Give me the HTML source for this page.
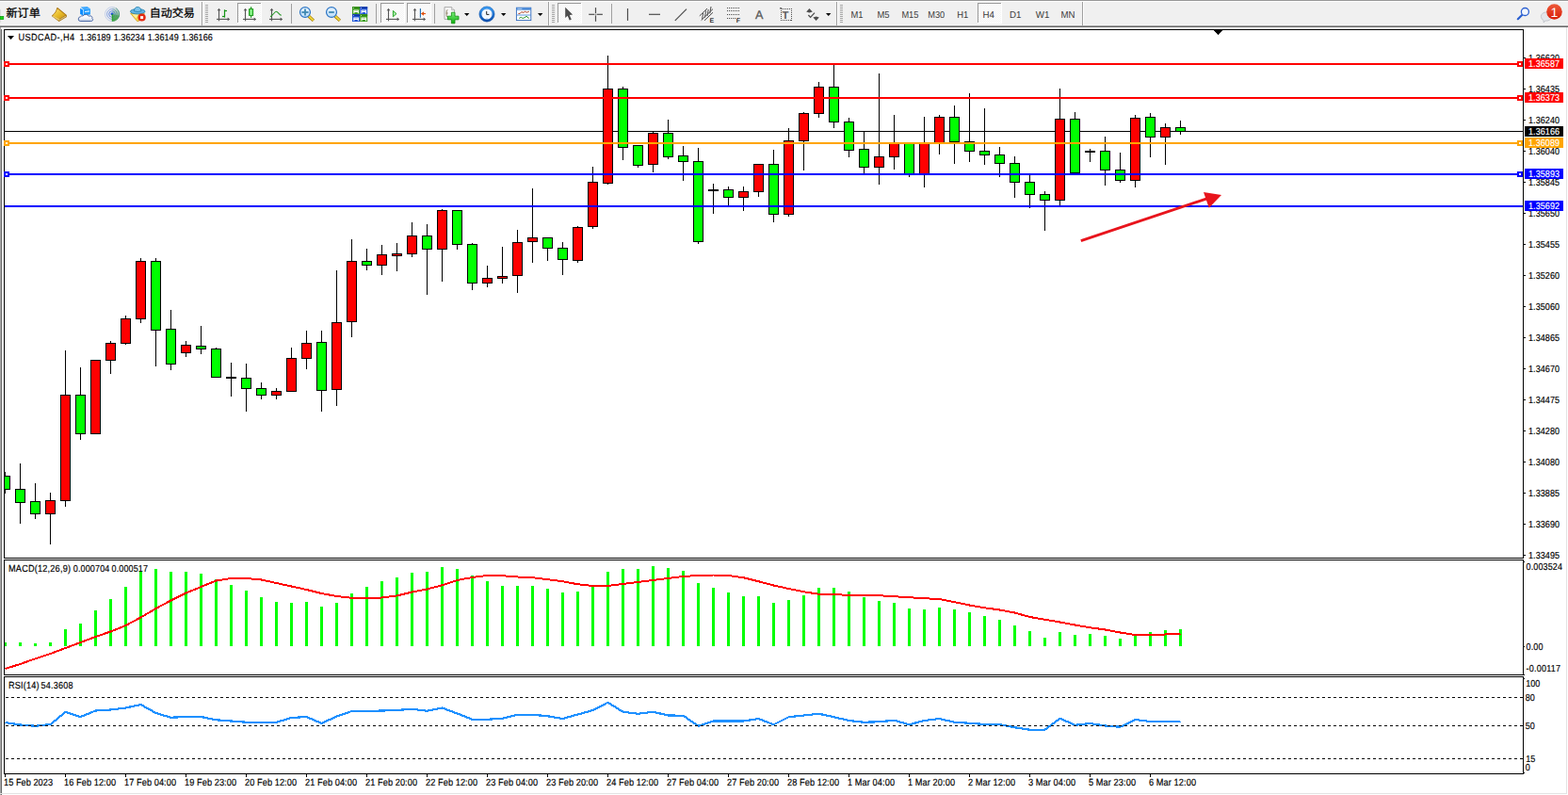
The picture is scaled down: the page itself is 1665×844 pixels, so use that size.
<!DOCTYPE html>
<html><head><meta charset="utf-8"><title>USDCAD H4</title>
<style>
html,body{margin:0;padding:0;background:#fff;overflow:hidden}
body{width:1665px;height:844px;font-family:"Liberation Sans",sans-serif}
svg{display:block;position:absolute;left:0;top:0}
text{font-family:"Liberation Sans",sans-serif;white-space:pre;text-rendering:geometricPrecision}
</style></head><body>
<svg width="1665" height="844" viewBox="0 0 1665 844" shape-rendering="crispEdges">
<defs>
<clipPath id="cm"><rect x="5" y="32" width="1612" height="560"/></clipPath>
<clipPath id="c2"><rect x="5" y="595" width="1612" height="121"/></clipPath>
<clipPath id="c3"><rect x="5" y="719" width="1612" height="102"/></clipPath>
</defs>
<rect x="0" y="0" width="1665" height="844" fill="#ffffff"/>
<rect x="0" y="0" width="1665" height="27" fill="#f0f0f0"/>
<rect x="0" y="0" width="1665" height="1" fill="#989898"/>
<rect x="0" y="1" width="1665" height="1" fill="#ffffff"/>
<rect x="0" y="26" width="1665" height="1" fill="#f4f4f4"/>
<rect x="0" y="27" width="1665" height="1" fill="#a0a0a0"/>
<rect x="0" y="28" width="1665" height="1" fill="#696969"/>
<rect x="0" y="29" width="1" height="815" fill="#a8a8a8"/>
<rect x="1" y="31" width="1" height="813" fill="#696969"/>
<rect x="1663" y="29" width="1" height="814" fill="#e3e3e3"/>
<rect x="0" y="842" width="1664" height="1" fill="#e3e3e3"/>
<rect x="4" y="31" width="1614" height="1" fill="#000"/>
<rect x="4" y="592" width="1614" height="1" fill="#000"/>
<rect x="4" y="31" width="1" height="562" fill="#000"/>
<rect x="1617" y="31" width="1" height="562" fill="#000"/>
<rect x="4" y="594" width="1614" height="1" fill="#000"/>
<rect x="4" y="716" width="1614" height="1" fill="#000"/>
<rect x="4" y="594" width="1" height="123" fill="#000"/>
<rect x="1617" y="594" width="1" height="123" fill="#000"/>
<rect x="4" y="718" width="1614" height="1" fill="#000"/>
<rect x="4" y="821" width="1614" height="1" fill="#000"/>
<rect x="4" y="718" width="1" height="104" fill="#000"/>
<rect x="1617" y="718" width="1" height="104" fill="#000"/>
<g clip-path="url(#cm)">
<rect x="5" y="139" width="1612" height="1" fill="#000"/>
<rect x="5" y="501" width="1" height="23" fill="#000"/>
<rect x="0" y="505" width="11" height="15" fill="#000"/>
<rect x="1" y="506" width="9" height="13" fill="#00ff00"/>
<rect x="21" y="492" width="1" height="64" fill="#000"/>
<rect x="16" y="519" width="11" height="15" fill="#000"/>
<rect x="17" y="520" width="9" height="13" fill="#00ff00"/>
<rect x="37" y="513" width="1" height="38" fill="#000"/>
<rect x="32" y="532" width="11" height="14" fill="#000"/>
<rect x="33" y="533" width="9" height="12" fill="#00ff00"/>
<rect x="53" y="523" width="1" height="55" fill="#000"/>
<rect x="48" y="531" width="11" height="15" fill="#000"/>
<rect x="49" y="532" width="9" height="13" fill="#ff0000"/>
<rect x="69" y="372" width="1" height="166" fill="#000"/>
<rect x="64" y="419" width="11" height="113" fill="#000"/>
<rect x="65" y="420" width="9" height="111" fill="#ff0000"/>
<rect x="85" y="390" width="1" height="77" fill="#000"/>
<rect x="80" y="419" width="11" height="42" fill="#000"/>
<rect x="81" y="420" width="9" height="40" fill="#00ff00"/>
<rect x="101" y="382" width="1" height="79" fill="#000"/>
<rect x="96" y="382" width="11" height="79" fill="#000"/>
<rect x="97" y="383" width="9" height="77" fill="#ff0000"/>
<rect x="117" y="362" width="1" height="35" fill="#000"/>
<rect x="112" y="364" width="11" height="19" fill="#000"/>
<rect x="113" y="365" width="9" height="17" fill="#ff0000"/>
<rect x="133" y="335" width="1" height="31" fill="#000"/>
<rect x="128" y="338" width="11" height="27" fill="#000"/>
<rect x="129" y="339" width="9" height="25" fill="#ff0000"/>
<rect x="149" y="274" width="1" height="69" fill="#000"/>
<rect x="144" y="277" width="11" height="62" fill="#000"/>
<rect x="145" y="278" width="9" height="60" fill="#ff0000"/>
<rect x="165" y="274" width="1" height="115" fill="#000"/>
<rect x="160" y="277" width="11" height="74" fill="#000"/>
<rect x="161" y="278" width="9" height="72" fill="#00ff00"/>
<rect x="181" y="329" width="1" height="64" fill="#000"/>
<rect x="176" y="349" width="11" height="38" fill="#000"/>
<rect x="177" y="350" width="9" height="36" fill="#00ff00"/>
<rect x="197" y="362" width="1" height="17" fill="#000"/>
<rect x="192" y="366" width="11" height="9" fill="#000"/>
<rect x="193" y="367" width="9" height="7" fill="#ff0000"/>
<rect x="213" y="346" width="1" height="30" fill="#000"/>
<rect x="208" y="367" width="11" height="4" fill="#000"/>
<rect x="209" y="368" width="9" height="2" fill="#00ff00"/>
<rect x="229" y="369" width="1" height="32" fill="#000"/>
<rect x="224" y="370" width="11" height="31" fill="#000"/>
<rect x="225" y="371" width="9" height="29" fill="#00ff00"/>
<rect x="245" y="385" width="1" height="36" fill="#000"/>
<rect x="240" y="400" width="11" height="2" fill="#000"/>
<rect x="261" y="386" width="1" height="51" fill="#000"/>
<rect x="256" y="401" width="11" height="12" fill="#000"/>
<rect x="257" y="402" width="9" height="10" fill="#00ff00"/>
<rect x="277" y="406" width="1" height="18" fill="#000"/>
<rect x="272" y="412" width="11" height="8" fill="#000"/>
<rect x="273" y="413" width="9" height="6" fill="#00ff00"/>
<rect x="293" y="412" width="1" height="12" fill="#000"/>
<rect x="288" y="415" width="11" height="5" fill="#000"/>
<rect x="289" y="416" width="9" height="3" fill="#ff0000"/>
<rect x="309" y="369" width="1" height="47" fill="#000"/>
<rect x="304" y="380" width="11" height="36" fill="#000"/>
<rect x="305" y="381" width="9" height="34" fill="#ff0000"/>
<rect x="325" y="351" width="1" height="41" fill="#000"/>
<rect x="320" y="364" width="11" height="17" fill="#000"/>
<rect x="321" y="365" width="9" height="15" fill="#ff0000"/>
<rect x="341" y="351" width="1" height="86" fill="#000"/>
<rect x="336" y="363" width="11" height="52" fill="#000"/>
<rect x="337" y="364" width="9" height="50" fill="#00ff00"/>
<rect x="357" y="287" width="1" height="144" fill="#000"/>
<rect x="352" y="342" width="11" height="72" fill="#000"/>
<rect x="353" y="343" width="9" height="70" fill="#ff0000"/>
<rect x="373" y="254" width="1" height="104" fill="#000"/>
<rect x="368" y="277" width="11" height="65" fill="#000"/>
<rect x="369" y="278" width="9" height="63" fill="#ff0000"/>
<rect x="389" y="264" width="1" height="23" fill="#000"/>
<rect x="384" y="277" width="11" height="5" fill="#000"/>
<rect x="385" y="278" width="9" height="3" fill="#00ff00"/>
<rect x="405" y="260" width="1" height="32" fill="#000"/>
<rect x="400" y="270" width="11" height="12" fill="#000"/>
<rect x="401" y="271" width="9" height="10" fill="#ff0000"/>
<rect x="421" y="258" width="1" height="30" fill="#000"/>
<rect x="416" y="269" width="11" height="3" fill="#000"/>
<rect x="417" y="270" width="9" height="1" fill="#ff0000"/>
<rect x="437" y="236" width="1" height="37" fill="#000"/>
<rect x="432" y="250" width="11" height="20" fill="#000"/>
<rect x="433" y="251" width="9" height="18" fill="#ff0000"/>
<rect x="453" y="238" width="1" height="75" fill="#000"/>
<rect x="448" y="250" width="11" height="15" fill="#000"/>
<rect x="449" y="251" width="9" height="13" fill="#00ff00"/>
<rect x="469" y="222" width="1" height="77" fill="#000"/>
<rect x="464" y="223" width="11" height="42" fill="#000"/>
<rect x="465" y="224" width="9" height="40" fill="#ff0000"/>
<rect x="485" y="223" width="1" height="42" fill="#000"/>
<rect x="480" y="223" width="11" height="37" fill="#000"/>
<rect x="481" y="224" width="9" height="35" fill="#00ff00"/>
<rect x="501" y="258" width="1" height="50" fill="#000"/>
<rect x="496" y="259" width="11" height="42" fill="#000"/>
<rect x="497" y="260" width="9" height="40" fill="#00ff00"/>
<rect x="517" y="282" width="1" height="23" fill="#000"/>
<rect x="512" y="295" width="11" height="6" fill="#000"/>
<rect x="513" y="296" width="9" height="4" fill="#ff0000"/>
<rect x="533" y="262" width="1" height="39" fill="#000"/>
<rect x="528" y="293" width="11" height="3" fill="#000"/>
<rect x="529" y="294" width="9" height="1" fill="#ff0000"/>
<rect x="549" y="244" width="1" height="67" fill="#000"/>
<rect x="544" y="257" width="11" height="36" fill="#000"/>
<rect x="545" y="258" width="9" height="34" fill="#ff0000"/>
<rect x="565" y="200" width="1" height="79" fill="#000"/>
<rect x="560" y="252" width="11" height="5" fill="#000"/>
<rect x="561" y="253" width="9" height="3" fill="#ff0000"/>
<rect x="581" y="252" width="1" height="25" fill="#000"/>
<rect x="576" y="252" width="11" height="12" fill="#000"/>
<rect x="577" y="253" width="9" height="10" fill="#00ff00"/>
<rect x="597" y="257" width="1" height="35" fill="#000"/>
<rect x="592" y="263" width="11" height="13" fill="#000"/>
<rect x="593" y="264" width="9" height="11" fill="#00ff00"/>
<rect x="613" y="240" width="1" height="39" fill="#000"/>
<rect x="608" y="241" width="11" height="36" fill="#000"/>
<rect x="609" y="242" width="9" height="34" fill="#ff0000"/>
<rect x="629" y="177" width="1" height="66" fill="#000"/>
<rect x="624" y="193" width="11" height="48" fill="#000"/>
<rect x="625" y="194" width="9" height="46" fill="#ff0000"/>
<rect x="645" y="59" width="1" height="137" fill="#000"/>
<rect x="640" y="94" width="11" height="101" fill="#000"/>
<rect x="641" y="95" width="9" height="99" fill="#ff0000"/>
<rect x="661" y="92" width="1" height="78" fill="#000"/>
<rect x="656" y="94" width="11" height="63" fill="#000"/>
<rect x="657" y="95" width="9" height="61" fill="#00ff00"/>
<rect x="677" y="154" width="1" height="24" fill="#000"/>
<rect x="672" y="154" width="11" height="22" fill="#000"/>
<rect x="673" y="155" width="9" height="20" fill="#00ff00"/>
<rect x="693" y="140" width="1" height="43" fill="#000"/>
<rect x="688" y="141" width="11" height="34" fill="#000"/>
<rect x="689" y="142" width="9" height="32" fill="#ff0000"/>
<rect x="709" y="127" width="1" height="42" fill="#000"/>
<rect x="704" y="141" width="11" height="26" fill="#000"/>
<rect x="705" y="142" width="9" height="24" fill="#00ff00"/>
<rect x="725" y="155" width="1" height="37" fill="#000"/>
<rect x="720" y="165" width="11" height="7" fill="#000"/>
<rect x="721" y="166" width="9" height="5" fill="#00ff00"/>
<rect x="741" y="157" width="1" height="102" fill="#000"/>
<rect x="736" y="171" width="11" height="86" fill="#000"/>
<rect x="737" y="172" width="9" height="84" fill="#00ff00"/>
<rect x="757" y="195" width="1" height="32" fill="#000"/>
<rect x="752" y="201" width="11" height="2" fill="#000"/>
<rect x="773" y="198" width="1" height="20" fill="#000"/>
<rect x="768" y="201" width="11" height="9" fill="#000"/>
<rect x="769" y="202" width="9" height="7" fill="#00ff00"/>
<rect x="789" y="198" width="1" height="26" fill="#000"/>
<rect x="784" y="203" width="11" height="7" fill="#000"/>
<rect x="785" y="204" width="9" height="5" fill="#ff0000"/>
<rect x="805" y="174" width="1" height="35" fill="#000"/>
<rect x="800" y="174" width="11" height="30" fill="#000"/>
<rect x="801" y="175" width="9" height="28" fill="#ff0000"/>
<rect x="821" y="159" width="1" height="77" fill="#000"/>
<rect x="816" y="174" width="11" height="54" fill="#000"/>
<rect x="817" y="175" width="9" height="52" fill="#00ff00"/>
<rect x="837" y="136" width="1" height="94" fill="#000"/>
<rect x="832" y="149" width="11" height="79" fill="#000"/>
<rect x="833" y="150" width="9" height="77" fill="#ff0000"/>
<rect x="853" y="119" width="1" height="62" fill="#000"/>
<rect x="848" y="120" width="11" height="30" fill="#000"/>
<rect x="849" y="121" width="9" height="28" fill="#ff0000"/>
<rect x="869" y="87" width="1" height="38" fill="#000"/>
<rect x="864" y="92" width="11" height="29" fill="#000"/>
<rect x="865" y="93" width="9" height="27" fill="#ff0000"/>
<rect x="885" y="69" width="1" height="67" fill="#000"/>
<rect x="880" y="92" width="11" height="38" fill="#000"/>
<rect x="881" y="93" width="9" height="36" fill="#00ff00"/>
<rect x="901" y="125" width="1" height="42" fill="#000"/>
<rect x="896" y="129" width="11" height="31" fill="#000"/>
<rect x="897" y="130" width="9" height="29" fill="#00ff00"/>
<rect x="917" y="140" width="1" height="44" fill="#000"/>
<rect x="912" y="158" width="11" height="20" fill="#000"/>
<rect x="913" y="159" width="9" height="18" fill="#00ff00"/>
<rect x="933" y="78" width="1" height="118" fill="#000"/>
<rect x="928" y="166" width="11" height="12" fill="#000"/>
<rect x="929" y="167" width="9" height="10" fill="#ff0000"/>
<rect x="949" y="122" width="1" height="58" fill="#000"/>
<rect x="944" y="152" width="11" height="15" fill="#000"/>
<rect x="945" y="153" width="9" height="13" fill="#ff0000"/>
<rect x="965" y="152" width="1" height="36" fill="#000"/>
<rect x="960" y="152" width="11" height="33" fill="#000"/>
<rect x="961" y="153" width="9" height="31" fill="#00ff00"/>
<rect x="981" y="124" width="1" height="75" fill="#000"/>
<rect x="976" y="152" width="11" height="33" fill="#000"/>
<rect x="977" y="153" width="9" height="31" fill="#ff0000"/>
<rect x="997" y="122" width="1" height="42" fill="#000"/>
<rect x="992" y="124" width="11" height="28" fill="#000"/>
<rect x="993" y="125" width="9" height="26" fill="#ff0000"/>
<rect x="1013" y="112" width="1" height="62" fill="#000"/>
<rect x="1008" y="124" width="11" height="27" fill="#000"/>
<rect x="1009" y="125" width="9" height="25" fill="#00ff00"/>
<rect x="1029" y="99" width="1" height="73" fill="#000"/>
<rect x="1024" y="150" width="11" height="11" fill="#000"/>
<rect x="1025" y="151" width="9" height="9" fill="#00ff00"/>
<rect x="1045" y="115" width="1" height="60" fill="#000"/>
<rect x="1040" y="160" width="11" height="5" fill="#000"/>
<rect x="1041" y="161" width="9" height="3" fill="#00ff00"/>
<rect x="1061" y="156" width="1" height="32" fill="#000"/>
<rect x="1056" y="164" width="11" height="10" fill="#000"/>
<rect x="1057" y="165" width="9" height="8" fill="#00ff00"/>
<rect x="1077" y="166" width="1" height="44" fill="#000"/>
<rect x="1072" y="173" width="11" height="21" fill="#000"/>
<rect x="1073" y="174" width="9" height="19" fill="#00ff00"/>
<rect x="1093" y="186" width="1" height="35" fill="#000"/>
<rect x="1088" y="193" width="11" height="14" fill="#000"/>
<rect x="1089" y="194" width="9" height="12" fill="#00ff00"/>
<rect x="1109" y="203" width="1" height="42" fill="#000"/>
<rect x="1104" y="206" width="11" height="7" fill="#000"/>
<rect x="1105" y="207" width="9" height="5" fill="#00ff00"/>
<rect x="1125" y="94" width="1" height="124" fill="#000"/>
<rect x="1120" y="126" width="11" height="87" fill="#000"/>
<rect x="1121" y="127" width="9" height="85" fill="#ff0000"/>
<rect x="1141" y="119" width="1" height="65" fill="#000"/>
<rect x="1136" y="126" width="11" height="58" fill="#000"/>
<rect x="1137" y="127" width="9" height="56" fill="#00ff00"/>
<rect x="1157" y="158" width="1" height="14" fill="#000"/>
<rect x="1152" y="160" width="11" height="2" fill="#000"/>
<rect x="1173" y="145" width="1" height="52" fill="#000"/>
<rect x="1168" y="160" width="11" height="21" fill="#000"/>
<rect x="1169" y="161" width="9" height="19" fill="#00ff00"/>
<rect x="1189" y="162" width="1" height="32" fill="#000"/>
<rect x="1184" y="180" width="11" height="12" fill="#000"/>
<rect x="1185" y="181" width="9" height="10" fill="#00ff00"/>
<rect x="1205" y="122" width="1" height="77" fill="#000"/>
<rect x="1200" y="125" width="11" height="67" fill="#000"/>
<rect x="1201" y="126" width="9" height="65" fill="#ff0000"/>
<rect x="1221" y="120" width="1" height="47" fill="#000"/>
<rect x="1216" y="124" width="11" height="22" fill="#000"/>
<rect x="1217" y="125" width="9" height="20" fill="#00ff00"/>
<rect x="1237" y="131" width="1" height="44" fill="#000"/>
<rect x="1232" y="135" width="11" height="11" fill="#000"/>
<rect x="1233" y="136" width="9" height="9" fill="#ff0000"/>
<rect x="1253" y="128" width="1" height="15" fill="#000"/>
<rect x="1248" y="135" width="11" height="5" fill="#000"/>
<rect x="1249" y="136" width="9" height="3" fill="#00ff00"/>
</g>
<rect x="5" y="67" width="1612" height="2" fill="#ff0000"/>
<rect x="4" y="65" width="6" height="6" fill="#ff0000"/>
<rect x="6" y="67" width="2" height="2" fill="#fff"/>
<rect x="1611" y="65" width="6" height="6" fill="#ff0000"/>
<rect x="1613" y="67" width="2" height="2" fill="#fff"/>
<rect x="5" y="103" width="1612" height="2" fill="#ff0000"/>
<rect x="4" y="101" width="6" height="6" fill="#ff0000"/>
<rect x="6" y="103" width="2" height="2" fill="#fff"/>
<rect x="1611" y="101" width="6" height="6" fill="#ff0000"/>
<rect x="1613" y="103" width="2" height="2" fill="#fff"/>
<rect x="5" y="151" width="1612" height="2" fill="#ffa500"/>
<rect x="4" y="149" width="6" height="6" fill="#ffa500"/>
<rect x="6" y="151" width="2" height="2" fill="#fff"/>
<rect x="1611" y="149" width="6" height="6" fill="#ffa500"/>
<rect x="1613" y="151" width="2" height="2" fill="#fff"/>
<rect x="5" y="184" width="1612" height="2" fill="#0000ff"/>
<rect x="4" y="182" width="6" height="6" fill="#0000ff"/>
<rect x="6" y="184" width="2" height="2" fill="#fff"/>
<rect x="1611" y="182" width="6" height="6" fill="#0000ff"/>
<rect x="1613" y="184" width="2" height="2" fill="#fff"/>
<rect x="5" y="218" width="1612" height="2" fill="#0000ff"/>
<g shape-rendering="geometricPrecision"><line x1="1147.8" y1="255.6" x2="1283" y2="210.4" stroke="#e8141c" stroke-width="2.9"/><polygon points="1278,203.9 1297,206.9 1283.8,220.8" fill="#e8141c"/></g>
<rect x="1289" y="32" width="9" height="1" fill="#000"/>
<rect x="1290" y="33" width="7" height="1" fill="#000"/>
<rect x="1291" y="34" width="5" height="1" fill="#000"/>
<rect x="1292" y="35" width="3" height="1" fill="#000"/>
<rect x="1293" y="36" width="1" height="1" fill="#000"/>
<polygon points="8,38 15,38 11.5,42" fill="#000" shape-rendering="geometricPrecision"/>
<text transform="translate(19.6,43) scale(1,1.13)" font-size="9.2" fill="#000" stroke="#000" stroke-width="0.15" textLength="59.5" lengthAdjust="spacing">USDCAD-,H4</text>
<text transform="translate(84.6,43) scale(1,1.13)" font-size="9" fill="#000" stroke="#000" stroke-width="0.15" textLength="33" lengthAdjust="spacing">1.36189</text>
<text transform="translate(120.64999999999999,43) scale(1,1.13)" font-size="9" fill="#000" stroke="#000" stroke-width="0.15" textLength="33" lengthAdjust="spacing">1.36234</text>
<text transform="translate(156.7,43) scale(1,1.13)" font-size="9" fill="#000" stroke="#000" stroke-width="0.15" textLength="33" lengthAdjust="spacing">1.36149</text>
<text transform="translate(192.75,43) scale(1,1.13)" font-size="9" fill="#000" stroke="#000" stroke-width="0.15" textLength="33" lengthAdjust="spacing">1.36166</text>
<rect x="1618" y="61" width="2" height="1" fill="#000"/>
<text transform="translate(1623,65) scale(1,1.13)" font-size="9" fill="#000" stroke="#000" stroke-width="0.15" textLength="33" lengthAdjust="spacing">1.36620</text>
<rect x="1618" y="94" width="2" height="1" fill="#000"/>
<text transform="translate(1623,98) scale(1,1.13)" font-size="9" fill="#000" stroke="#000" stroke-width="0.15" textLength="33" lengthAdjust="spacing">1.36435</text>
<rect x="1618" y="127" width="2" height="1" fill="#000"/>
<text transform="translate(1623,131) scale(1,1.13)" font-size="9" fill="#000" stroke="#000" stroke-width="0.15" textLength="33" lengthAdjust="spacing">1.36240</text>
<rect x="1618" y="160" width="2" height="1" fill="#000"/>
<text transform="translate(1623,164) scale(1,1.13)" font-size="9" fill="#000" stroke="#000" stroke-width="0.15" textLength="33" lengthAdjust="spacing">1.36040</text>
<rect x="1618" y="193" width="2" height="1" fill="#000"/>
<text transform="translate(1623,197) scale(1,1.13)" font-size="9" fill="#000" stroke="#000" stroke-width="0.15" textLength="33" lengthAdjust="spacing">1.35845</text>
<rect x="1618" y="226" width="2" height="1" fill="#000"/>
<text transform="translate(1623,230) scale(1,1.13)" font-size="9" fill="#000" stroke="#000" stroke-width="0.15" textLength="33" lengthAdjust="spacing">1.35650</text>
<rect x="1618" y="259" width="2" height="1" fill="#000"/>
<text transform="translate(1623,263) scale(1,1.13)" font-size="9" fill="#000" stroke="#000" stroke-width="0.15" textLength="33" lengthAdjust="spacing">1.35455</text>
<rect x="1618" y="292" width="2" height="1" fill="#000"/>
<text transform="translate(1623,296) scale(1,1.13)" font-size="9" fill="#000" stroke="#000" stroke-width="0.15" textLength="33" lengthAdjust="spacing">1.35260</text>
<rect x="1618" y="325" width="2" height="1" fill="#000"/>
<text transform="translate(1623,329) scale(1,1.13)" font-size="9" fill="#000" stroke="#000" stroke-width="0.15" textLength="33" lengthAdjust="spacing">1.35060</text>
<rect x="1618" y="358" width="2" height="1" fill="#000"/>
<text transform="translate(1623,362) scale(1,1.13)" font-size="9" fill="#000" stroke="#000" stroke-width="0.15" textLength="33" lengthAdjust="spacing">1.34865</text>
<rect x="1618" y="391" width="2" height="1" fill="#000"/>
<text transform="translate(1623,395) scale(1,1.13)" font-size="9" fill="#000" stroke="#000" stroke-width="0.15" textLength="33" lengthAdjust="spacing">1.34670</text>
<rect x="1618" y="424" width="2" height="1" fill="#000"/>
<text transform="translate(1623,428) scale(1,1.13)" font-size="9" fill="#000" stroke="#000" stroke-width="0.15" textLength="33" lengthAdjust="spacing">1.34475</text>
<rect x="1618" y="457" width="2" height="1" fill="#000"/>
<text transform="translate(1623,461) scale(1,1.13)" font-size="9" fill="#000" stroke="#000" stroke-width="0.15" textLength="33" lengthAdjust="spacing">1.34280</text>
<rect x="1618" y="490" width="2" height="1" fill="#000"/>
<text transform="translate(1623,494) scale(1,1.13)" font-size="9" fill="#000" stroke="#000" stroke-width="0.15" textLength="33" lengthAdjust="spacing">1.34080</text>
<rect x="1618" y="523" width="2" height="1" fill="#000"/>
<text transform="translate(1623,527) scale(1,1.13)" font-size="9" fill="#000" stroke="#000" stroke-width="0.15" textLength="33" lengthAdjust="spacing">1.33885</text>
<rect x="1618" y="556" width="2" height="1" fill="#000"/>
<text transform="translate(1623,560) scale(1,1.13)" font-size="9" fill="#000" stroke="#000" stroke-width="0.15" textLength="33" lengthAdjust="spacing">1.33690</text>
<rect x="1618" y="589" width="2" height="1" fill="#000"/>
<text transform="translate(1623,593) scale(1,1.13)" font-size="9" fill="#000" stroke="#000" stroke-width="0.15" textLength="33" lengthAdjust="spacing">1.33495</text>
<rect x="1619" y="62" width="41" height="11" fill="#ff0000"/>
<text transform="translate(1623,71) scale(1,1.13)" font-size="9" fill="#fff" stroke="#fff" stroke-width="0.15" textLength="33" lengthAdjust="spacing">1.36587</text>
<rect x="1619" y="98" width="41" height="11" fill="#ff0000"/>
<text transform="translate(1623,107) scale(1,1.13)" font-size="9" fill="#fff" stroke="#fff" stroke-width="0.15" textLength="33" lengthAdjust="spacing">1.36373</text>
<rect x="1619" y="134" width="41" height="11" fill="#000"/>
<text transform="translate(1623,143) scale(1,1.13)" font-size="9" fill="#fff" stroke="#fff" stroke-width="0.15" textLength="33" lengthAdjust="spacing">1.36166</text>
<rect x="1619" y="146" width="41" height="11" fill="#ffa500"/>
<text transform="translate(1623,155) scale(1,1.13)" font-size="9" fill="#fff" stroke="#fff" stroke-width="0.15" textLength="33" lengthAdjust="spacing">1.36089</text>
<rect x="1619" y="179" width="41" height="11" fill="#0000ff"/>
<text transform="translate(1623,188) scale(1,1.13)" font-size="9" fill="#fff" stroke="#fff" stroke-width="0.15" textLength="33" lengthAdjust="spacing">1.35893</text>
<rect x="1619" y="213" width="41" height="11" fill="#0000ff"/>
<text transform="translate(1623,222) scale(1,1.13)" font-size="9" fill="#fff" stroke="#fff" stroke-width="0.15" textLength="33" lengthAdjust="spacing">1.35692</text>
<g clip-path="url(#c2)">
<rect x="4" y="682" width="3" height="4" fill="#00ff00"/>
<rect x="20" y="682" width="3" height="4" fill="#00ff00"/>
<rect x="36" y="683" width="3" height="3" fill="#00ff00"/>
<rect x="52" y="682" width="3" height="4" fill="#00ff00"/>
<rect x="68" y="668" width="3" height="18" fill="#00ff00"/>
<rect x="84" y="662" width="3" height="24" fill="#00ff00"/>
<rect x="100" y="648" width="3" height="38" fill="#00ff00"/>
<rect x="116" y="636" width="3" height="50" fill="#00ff00"/>
<rect x="132" y="623" width="3" height="63" fill="#00ff00"/>
<rect x="148" y="606" width="3" height="80" fill="#00ff00"/>
<rect x="164" y="604" width="3" height="82" fill="#00ff00"/>
<rect x="180" y="607" width="3" height="79" fill="#00ff00"/>
<rect x="196" y="607" width="3" height="79" fill="#00ff00"/>
<rect x="212" y="609" width="3" height="77" fill="#00ff00"/>
<rect x="228" y="615" width="3" height="71" fill="#00ff00"/>
<rect x="244" y="621" width="3" height="65" fill="#00ff00"/>
<rect x="260" y="627" width="3" height="59" fill="#00ff00"/>
<rect x="276" y="634" width="3" height="52" fill="#00ff00"/>
<rect x="292" y="639" width="3" height="47" fill="#00ff00"/>
<rect x="308" y="640" width="3" height="46" fill="#00ff00"/>
<rect x="324" y="639" width="3" height="47" fill="#00ff00"/>
<rect x="340" y="644" width="3" height="42" fill="#00ff00"/>
<rect x="356" y="640" width="3" height="46" fill="#00ff00"/>
<rect x="372" y="630" width="3" height="56" fill="#00ff00"/>
<rect x="388" y="623" width="3" height="63" fill="#00ff00"/>
<rect x="404" y="617" width="3" height="69" fill="#00ff00"/>
<rect x="420" y="613" width="3" height="73" fill="#00ff00"/>
<rect x="436" y="608" width="3" height="78" fill="#00ff00"/>
<rect x="452" y="607" width="3" height="79" fill="#00ff00"/>
<rect x="468" y="602" width="3" height="84" fill="#00ff00"/>
<rect x="484" y="604" width="3" height="82" fill="#00ff00"/>
<rect x="500" y="611" width="3" height="75" fill="#00ff00"/>
<rect x="516" y="617" width="3" height="69" fill="#00ff00"/>
<rect x="532" y="622" width="3" height="64" fill="#00ff00"/>
<rect x="548" y="622" width="3" height="64" fill="#00ff00"/>
<rect x="564" y="622" width="3" height="64" fill="#00ff00"/>
<rect x="580" y="625" width="3" height="61" fill="#00ff00"/>
<rect x="596" y="629" width="3" height="57" fill="#00ff00"/>
<rect x="612" y="628" width="3" height="58" fill="#00ff00"/>
<rect x="628" y="623" width="3" height="63" fill="#00ff00"/>
<rect x="644" y="607" width="3" height="79" fill="#00ff00"/>
<rect x="660" y="604" width="3" height="82" fill="#00ff00"/>
<rect x="676" y="604" width="3" height="82" fill="#00ff00"/>
<rect x="692" y="601" width="3" height="85" fill="#00ff00"/>
<rect x="708" y="603" width="3" height="83" fill="#00ff00"/>
<rect x="724" y="606" width="3" height="80" fill="#00ff00"/>
<rect x="740" y="619" width="3" height="67" fill="#00ff00"/>
<rect x="756" y="624" width="3" height="62" fill="#00ff00"/>
<rect x="772" y="629" width="3" height="57" fill="#00ff00"/>
<rect x="788" y="633" width="3" height="53" fill="#00ff00"/>
<rect x="804" y="633" width="3" height="53" fill="#00ff00"/>
<rect x="820" y="640" width="3" height="46" fill="#00ff00"/>
<rect x="836" y="637" width="3" height="49" fill="#00ff00"/>
<rect x="852" y="632" width="3" height="54" fill="#00ff00"/>
<rect x="868" y="624" width="3" height="62" fill="#00ff00"/>
<rect x="884" y="624" width="3" height="62" fill="#00ff00"/>
<rect x="900" y="628" width="3" height="58" fill="#00ff00"/>
<rect x="916" y="634" width="3" height="52" fill="#00ff00"/>
<rect x="932" y="638" width="3" height="48" fill="#00ff00"/>
<rect x="948" y="640" width="3" height="46" fill="#00ff00"/>
<rect x="964" y="646" width="3" height="40" fill="#00ff00"/>
<rect x="980" y="647" width="3" height="39" fill="#00ff00"/>
<rect x="996" y="645" width="3" height="41" fill="#00ff00"/>
<rect x="1012" y="647" width="3" height="39" fill="#00ff00"/>
<rect x="1028" y="650" width="3" height="36" fill="#00ff00"/>
<rect x="1044" y="654" width="3" height="32" fill="#00ff00"/>
<rect x="1060" y="658" width="3" height="28" fill="#00ff00"/>
<rect x="1076" y="664" width="3" height="22" fill="#00ff00"/>
<rect x="1092" y="670" width="3" height="16" fill="#00ff00"/>
<rect x="1108" y="677" width="3" height="9" fill="#00ff00"/>
<rect x="1124" y="671" width="3" height="15" fill="#00ff00"/>
<rect x="1140" y="674" width="3" height="12" fill="#00ff00"/>
<rect x="1156" y="673" width="3" height="13" fill="#00ff00"/>
<rect x="1172" y="675" width="3" height="11" fill="#00ff00"/>
<rect x="1188" y="678" width="3" height="8" fill="#00ff00"/>
<rect x="1204" y="674" width="3" height="12" fill="#00ff00"/>
<rect x="1220" y="671" width="3" height="15" fill="#00ff00"/>
<rect x="1236" y="669" width="3" height="17" fill="#00ff00"/>
<rect x="1252" y="668" width="3" height="18" fill="#00ff00"/>
<polyline points="5.5,710 21.5,705 37.5,699.3 53.5,694 69.5,688 85.5,682 101.5,676 117.5,670.5 133.5,664 149.5,655.5 165.5,646 181.5,637.5 197.5,629.5 213.5,623 229.5,616.5 245.5,614 261.5,614 277.5,615.5 293.5,619 309.5,622.5 325.5,626 341.5,630 357.5,633 373.5,634.75 389.5,635 405.5,634.5 421.5,632.5 437.5,628.5 453.5,625.5 469.5,621.25 485.5,616 501.5,613 517.5,611 533.5,611.25 549.5,612.5 565.5,613.25 581.5,615.25 597.5,617.25 613.5,620.25 629.5,622 645.5,622 661.5,620 677.5,618 693.5,616 709.5,614 725.5,612 741.5,611 757.5,610.5 773.5,611 789.5,613.25 805.5,617.25 821.5,621.5 837.5,625 853.5,628.25 869.5,630.75 885.5,631.25 901.5,631.75 917.5,632 933.5,632.25 949.5,633.25 965.5,634.25 981.5,635.25 997.5,636 1013.5,639.25 1029.5,642.5 1045.5,645.25 1061.5,647.5 1077.5,650.5 1093.5,655 1109.5,657.75 1125.5,660.5 1141.5,663.5 1157.5,666.25 1173.5,668.5 1189.5,671.5 1205.5,674 1221.5,674 1237.5,673.5 1253.5,673" fill="none" stroke="#ff0000" stroke-width="2" stroke-linejoin="round"/>
</g>
<text transform="translate(9,607) scale(1,1.13)" font-size="9.2" fill="#000" stroke="#000" stroke-width="0.15" textLength="66" lengthAdjust="spacing">MACD(12,26,9)</text>
<text transform="translate(77.8,607) scale(1,1.13)" font-size="9" fill="#000" stroke="#000" stroke-width="0.15" textLength="38.5" lengthAdjust="spacing">0.000704</text>
<text transform="translate(118.5,607) scale(1,1.13)" font-size="9" fill="#000" stroke="#000" stroke-width="0.15" textLength="38.5" lengthAdjust="spacing">0.000517</text>
<rect x="1618" y="596" width="1" height="1" fill="#000"/>
<rect x="1618" y="686" width="1" height="1" fill="#000"/>
<rect x="1618" y="716" width="1" height="1" fill="#000"/>
<text transform="translate(1620.5,605) scale(1,1.13)" font-size="9" fill="#000" stroke="#000" stroke-width="0.15" textLength="38.5" lengthAdjust="spacing">0.003524</text>
<text transform="translate(1620.5,690) scale(1,1.13)" font-size="9" fill="#000" stroke="#000" stroke-width="0.15" textLength="18" lengthAdjust="spacing">0.00</text>
<text transform="translate(1620.5,713) scale(1,1.13)" font-size="9" fill="#000" stroke="#000" stroke-width="0.15" textLength="36.5" lengthAdjust="spacing">-0.00117</text>
<g clip-path="url(#c3)">
<polyline points="5.5,767 21.5,769.5 37.5,770.75 53.5,769 69.5,756 85.5,761 101.5,754.5 117.5,753.5 133.5,751.5 149.5,748 165.5,757 181.5,761.75 197.5,761 213.5,761 229.5,764.25 245.5,765.5 261.5,766.75 277.5,766.75 293.5,766.75 309.5,762 325.5,761 341.5,768 357.5,760.5 373.5,755 389.5,755 405.5,754.5 421.5,754 437.5,752.75 453.5,754.75 469.5,751.5 485.5,757.5 501.5,763.75 517.5,763.75 533.5,762.75 549.5,758.75 565.5,758.75 581.5,760.25 597.5,763 613.5,758.5 629.5,754 645.5,745.75 661.5,755.75 677.5,757.75 693.5,755.75 709.5,759.5 725.5,759.75 741.5,770.75 757.5,765.5 773.5,765.5 789.5,765.5 805.5,763 821.5,769.25 837.5,761.25 853.5,759.5 869.5,757.75 885.5,761.25 901.5,765 917.5,766.75 933.5,766.25 949.5,764.75 965.5,769.25 981.5,765 997.5,763 1013.5,766.75 1029.5,767.75 1045.5,769 1061.5,769.25 1077.5,772.25 1093.5,774.75 1109.5,774.75 1125.5,762.75 1141.5,769.75 1157.5,768 1173.5,770.5 1189.5,771.75 1205.5,764 1221.5,766 1237.5,766 1253.5,765.6" fill="none" stroke="#1e90ff" stroke-width="2.2" stroke-linejoin="round"/>
</g>
<line x1="6" y1="740.5" x2="1617" y2="740.5" stroke="#000" stroke-width="1" stroke-dasharray="3 3"/>
<line x1="6" y1="770.5" x2="1617" y2="770.5" stroke="#000" stroke-width="1" stroke-dasharray="3 3"/>
<line x1="6" y1="805.5" x2="1617" y2="805.5" stroke="#000" stroke-width="1" stroke-dasharray="3 3"/>
<text transform="translate(9,731) scale(1,1.13)" font-size="9.2" fill="#000" stroke="#000" stroke-width="0.15" textLength="32.6" lengthAdjust="spacing">RSI(14)</text>
<text transform="translate(43.6,731) scale(1,1.13)" font-size="9" fill="#000" stroke="#000" stroke-width="0.15" textLength="34" lengthAdjust="spacing">54.3608</text>
<rect x="1618" y="720" width="1" height="1" fill="#000"/>
<rect x="1618" y="820" width="1" height="1" fill="#000"/>
<text transform="translate(1620.3,729) scale(1,1.13)" font-size="9" fill="#000" stroke="#000" stroke-width="0.15">100</text>
<text transform="translate(1619.7,744) scale(1,1.13)" font-size="9" fill="#000" stroke="#000" stroke-width="0.15">80</text>
<text transform="translate(1619.7,774) scale(1,1.13)" font-size="9" fill="#000" stroke="#000" stroke-width="0.15">50</text>
<text transform="translate(1620.3,809) scale(1,1.13)" font-size="9" fill="#000" stroke="#000" stroke-width="0.15">15</text>
<text transform="translate(1619.7,818) scale(1,1.13)" font-size="9" fill="#000" stroke="#000" stroke-width="0.15">0</text>
<rect x="5" y="822" width="1" height="3" fill="#000"/>
<text transform="translate(4,834) scale(1,1.13)" font-size="9.2" fill="#000" stroke="#000" stroke-width="0.15" textLength="52" lengthAdjust="spacing">15 Feb 2023</text>
<rect x="69" y="822" width="1" height="3" fill="#000"/>
<text transform="translate(68,834) scale(1,1.13)" font-size="9.2" fill="#000" stroke="#000" stroke-width="0.15" textLength="55" lengthAdjust="spacing">16 Feb 12:00</text>
<rect x="133" y="822" width="1" height="3" fill="#000"/>
<text transform="translate(132,834) scale(1,1.13)" font-size="9.2" fill="#000" stroke="#000" stroke-width="0.15" textLength="55" lengthAdjust="spacing">17 Feb 04:00</text>
<rect x="197" y="822" width="1" height="3" fill="#000"/>
<text transform="translate(196,834) scale(1,1.13)" font-size="9.2" fill="#000" stroke="#000" stroke-width="0.15" textLength="55" lengthAdjust="spacing">19 Feb 23:00</text>
<rect x="261" y="822" width="1" height="3" fill="#000"/>
<text transform="translate(260,834) scale(1,1.13)" font-size="9.2" fill="#000" stroke="#000" stroke-width="0.15" textLength="55" lengthAdjust="spacing">20 Feb 12:00</text>
<rect x="325" y="822" width="1" height="3" fill="#000"/>
<text transform="translate(324,834) scale(1,1.13)" font-size="9.2" fill="#000" stroke="#000" stroke-width="0.15" textLength="55" lengthAdjust="spacing">21 Feb 04:00</text>
<rect x="389" y="822" width="1" height="3" fill="#000"/>
<text transform="translate(388,834) scale(1,1.13)" font-size="9.2" fill="#000" stroke="#000" stroke-width="0.15" textLength="55" lengthAdjust="spacing">21 Feb 20:00</text>
<rect x="453" y="822" width="1" height="3" fill="#000"/>
<text transform="translate(452,834) scale(1,1.13)" font-size="9.2" fill="#000" stroke="#000" stroke-width="0.15" textLength="55" lengthAdjust="spacing">22 Feb 12:00</text>
<rect x="517" y="822" width="1" height="3" fill="#000"/>
<text transform="translate(516,834) scale(1,1.13)" font-size="9.2" fill="#000" stroke="#000" stroke-width="0.15" textLength="55" lengthAdjust="spacing">23 Feb 04:00</text>
<rect x="581" y="822" width="1" height="3" fill="#000"/>
<text transform="translate(580,834) scale(1,1.13)" font-size="9.2" fill="#000" stroke="#000" stroke-width="0.15" textLength="55" lengthAdjust="spacing">23 Feb 20:00</text>
<rect x="645" y="822" width="1" height="3" fill="#000"/>
<text transform="translate(644,834) scale(1,1.13)" font-size="9.2" fill="#000" stroke="#000" stroke-width="0.15" textLength="55" lengthAdjust="spacing">24 Feb 12:00</text>
<rect x="709" y="822" width="1" height="3" fill="#000"/>
<text transform="translate(708,834) scale(1,1.13)" font-size="9.2" fill="#000" stroke="#000" stroke-width="0.15" textLength="55" lengthAdjust="spacing">27 Feb 04:00</text>
<rect x="773" y="822" width="1" height="3" fill="#000"/>
<text transform="translate(772,834) scale(1,1.13)" font-size="9.2" fill="#000" stroke="#000" stroke-width="0.15" textLength="55" lengthAdjust="spacing">27 Feb 20:00</text>
<rect x="837" y="822" width="1" height="3" fill="#000"/>
<text transform="translate(836,834) scale(1,1.13)" font-size="9.2" fill="#000" stroke="#000" stroke-width="0.15" textLength="55" lengthAdjust="spacing">28 Feb 12:00</text>
<rect x="901" y="822" width="1" height="3" fill="#000"/>
<text transform="translate(900,834) scale(1,1.13)" font-size="9.2" fill="#000" stroke="#000" stroke-width="0.15" textLength="50" lengthAdjust="spacing">1 Mar 04:00</text>
<rect x="965" y="822" width="1" height="3" fill="#000"/>
<text transform="translate(964,834) scale(1,1.13)" font-size="9.2" fill="#000" stroke="#000" stroke-width="0.15" textLength="50" lengthAdjust="spacing">1 Mar 20:00</text>
<rect x="1029" y="822" width="1" height="3" fill="#000"/>
<text transform="translate(1028,834) scale(1,1.13)" font-size="9.2" fill="#000" stroke="#000" stroke-width="0.15" textLength="50" lengthAdjust="spacing">2 Mar 12:00</text>
<rect x="1093" y="822" width="1" height="3" fill="#000"/>
<text transform="translate(1092,834) scale(1,1.13)" font-size="9.2" fill="#000" stroke="#000" stroke-width="0.15" textLength="50" lengthAdjust="spacing">3 Mar 04:00</text>
<rect x="1157" y="822" width="1" height="3" fill="#000"/>
<text transform="translate(1156,834) scale(1,1.13)" font-size="9.2" fill="#000" stroke="#000" stroke-width="0.15" textLength="50" lengthAdjust="spacing">5 Mar 23:00</text>
<rect x="1221" y="822" width="1" height="3" fill="#000"/>
<text transform="translate(1220,834) scale(1,1.13)" font-size="9.2" fill="#000" stroke="#000" stroke-width="0.15" textLength="50" lengthAdjust="spacing">6 Mar 12:00</text>
<g shape-rendering="geometricPrecision">
<defs><pattern id="chk" width="2" height="2" patternUnits="userSpaceOnUse"><rect width="2" height="2" fill="#f2f2f2"/><rect width="1" height="1" fill="#fff"/><rect x="1" y="1" width="1" height="1" fill="#fff"/></pattern><linearGradient id="gold" x1="0" y1="0" x2="1" y2="1"><stop offset="0" stop-color="#fbe27a"/><stop offset="0.5" stop-color="#e9bd2a"/><stop offset="1" stop-color="#c8941a"/></linearGradient><linearGradient id="lens" x1="0" y1="0" x2="0" y2="1"><stop offset="0" stop-color="#eaf5ff"/><stop offset="1" stop-color="#b9dcf8"/></linearGradient><linearGradient id="clk" x1="0" y1="0" x2="0" y2="1"><stop offset="0" stop-color="#3a9af0"/><stop offset="1" stop-color="#0b4fb0"/></linearGradient><linearGradient id="badge" x1="0" y1="0" x2="0" y2="1"><stop offset="0" stop-color="#ee5a3a"/><stop offset="1" stop-color="#d81e08"/></linearGradient><linearGradient id="gplus" x1="0" y1="0" x2="0" y2="1"><stop offset="0" stop-color="#7cf07c"/><stop offset="1" stop-color="#0fae0f"/></linearGradient><linearGradient id="grn" x1="0" y1="0" x2="1" y2="0"><stop offset="0" stop-color="#28d028"/><stop offset="0.5" stop-color="#a0f8a0"/><stop offset="1" stop-color="#28d028"/></linearGradient></defs>
<rect x="0" y="10" width="1" height="14" fill="#dedede"/><rect x="0" y="17.3" width="3.8" height="3.4" fill="#19d819" stroke="#0a8a0a" stroke-width="0.6"/>
<text x="6.5" y="18.4" font-size="12.1" fill="#000" stroke="#000" stroke-width="0.27" textLength="36.3" lengthAdjust="spacing" style="font-family:'Liberation Sans','Noto Sans CJK SC',sans-serif">新订单</text>
<path d="M55.1,16.4 Q59.3,13.4 60.3,8.2 L61.2,8 L70.9,16.1 L70.9,17.9 L62.6,22.9 L55.1,17.3 Z" fill="#a8720f"/><path d="M56.3,16.3 Q59.9,13.4 61,9.2 L69.6,16 L63,19.9 Z" fill="url(#gold)"/><path d="M56,16.9 L62.8,21.4 L63.2,20.2 L56.6,16.2 Z" fill="#f3d45a"/><line x1="56.2" y1="17.3" x2="62.6" y2="21.7" stroke="#f8e9a4" stroke-width="0.6"/><path d="M63.4,20.4 L70.2,16.4 L70.3,17.4 L63.2,21.8 Z" fill="#e9dcae"/><line x1="63.3" y1="21.2" x2="70.3" y2="16.9" stroke="#b08a30" stroke-width="0.4"/>
<defs><linearGradient id="cld" x1="0" y1="0" x2="0" y2="1"><stop offset="0" stop-color="#ffffff"/><stop offset="0.55" stop-color="#f2f5fa"/><stop offset="1" stop-color="#b9c6de"/></linearGradient></defs><polygon points="85.1,8.7 88.5,10.5 88.5,16.6 85.1,15" fill="#0a8cff"/><polygon points="85.5,7.5 92.6,7.1 95.9,9.2 88.6,10.3" fill="#3fa9ff"/><polygon points="88.6,10.3 95.9,9.2 95.9,15.4 88.6,16.6" fill="#1e9bff"/><path d="M85.4,8.3 L88.5,10.3 L88.5,15.4" fill="none" stroke="#d8ecff" stroke-width="0.6"/><polygon points="90,12 94.9,11.3 94.9,12.4 90,13.1" fill="#e6f3ff"/><path d="M85.2,22.5 Q83,22.3 83.2,20 Q83.4,18 85.6,17.7 Q86.5,16.5 88,16.9 Q89,15.3 91.4,15.4 Q93.6,15.5 94.4,17.3 Q96,16.1 97.4,17.5 Q98.3,18.4 97.8,19.4 Q99.2,20.4 98.4,21.7 Q97.8,22.5 96.6,22.5 Z" fill="url(#cld)" stroke="#3f5fa0" stroke-width="0.9"/>
<defs><linearGradient id="sweep" x1="0" y1="0" x2="0" y2="1"><stop offset="0" stop-color="#58b058" stop-opacity="0.05"/><stop offset="0.55" stop-color="#4aa84a" stop-opacity="0.55"/><stop offset="1" stop-color="#2f9a2f" stop-opacity="0.95"/></linearGradient></defs><path d="M119.3,7.2 a7.8,7.8 0 0 1 0,15.6 z" fill="url(#sweep)"/><g fill="none"><circle cx="119" cy="15" r="7.5" stroke="#8fa8e0" stroke-width="0.8" opacity="0.55"/><circle cx="119" cy="15" r="5.4" stroke="#5a82dc" stroke-width="0.9" opacity="0.75"/><circle cx="119" cy="15" r="3.3" stroke="#3a68d4" stroke-width="0.9" opacity="0.85"/></g><path d="M119.3,15 L119.3,22.8 A7.8,7.8 0 0 0 126.6,16.6 Z" fill="#3da33d" opacity="0.55"/><path d="M123.2,8.7 A7.6,7.6 0 0 1 125.2,19.6" fill="none" stroke="#2f7f6a" stroke-width="0.9" opacity="0.75"/><path d="M122,10.7 A5.3,5.3 0 0 1 123.4,18" fill="none" stroke="#3f8f6a" stroke-width="0.8" opacity="0.6"/><circle cx="119" cy="14.8" r="1.6" fill="#2456d6"/><line x1="119.3" y1="15" x2="119.3" y2="22.6" stroke="#1fa51f" stroke-width="1.1"/>
<polygon points="138.6,14.2 153.4,14.2 147.2,22.6 145.6,22.6" fill="#f3d24a" stroke="#c99a18" stroke-width="0.7"/><polygon points="140.4,15.2 147,15.2 144.4,19.6" fill="#fbf0a0"/><ellipse cx="146.2" cy="12.2" rx="7.8" ry="2.7" fill="#62b4e4" stroke="#1f7cab" stroke-width="0.8"/><path d="M142.4,11.8 q0.4,-4.4 3.7,-4.4 q3.5,0 3.9,4.4 q-3.8,1.6 -7.6,0 z" fill="#78c2ec" stroke="#1f7cab" stroke-width="0.8"/><circle cx="150.6" cy="18.5" r="4.1" fill="#e22a12"/><rect x="149.1" y="17.1" width="3" height="3" fill="#fff"/>
<text x="158.7" y="18.4" font-size="12.05" fill="#000" stroke="#000" stroke-width="0.27" textLength="48.2" lengthAdjust="spacing" style="font-family:'Liberation Sans','Noto Sans CJK SC',sans-serif">自动交易</text>
<rect x="214" y="2" width="1" height="25" fill="#a0a0a0" shape-rendering="crispEdges"/>
<rect x="215" y="2" width="1" height="25" fill="#fff" shape-rendering="crispEdges"/>
<rect x="218" y="5" width="3" height="1" fill="#a6a6a6" shape-rendering="crispEdges"/>
<rect x="218" y="7" width="3" height="1" fill="#a6a6a6" shape-rendering="crispEdges"/>
<rect x="218" y="9" width="3" height="1" fill="#a6a6a6" shape-rendering="crispEdges"/>
<rect x="218" y="11" width="3" height="1" fill="#a6a6a6" shape-rendering="crispEdges"/>
<rect x="218" y="13" width="3" height="1" fill="#a6a6a6" shape-rendering="crispEdges"/>
<rect x="218" y="15" width="3" height="1" fill="#a6a6a6" shape-rendering="crispEdges"/>
<rect x="218" y="17" width="3" height="1" fill="#a6a6a6" shape-rendering="crispEdges"/>
<rect x="218" y="19" width="3" height="1" fill="#a6a6a6" shape-rendering="crispEdges"/>
<rect x="218" y="21" width="3" height="1" fill="#a6a6a6" shape-rendering="crispEdges"/>
<rect x="218" y="23" width="3" height="1" fill="#a6a6a6" shape-rendering="crispEdges"/>
<g stroke="#555" stroke-width="1.1" fill="#555"><line x1="232.5" y1="10" x2="232.5" y2="22.3"/><line x1="230" y1="20.4" x2="243" y2="20.4"/><polygon points="232.5,8.8 230.6,11.3 234.4,11.3" stroke="none"/><polygon points="244.2,20.4 241.7,18.5 241.7,22.3" stroke="none"/></g>
<g stroke="#169416" stroke-width="1.2" fill="none"><line x1="238.5" y1="10.3" x2="238.5" y2="18.6"/><line x1="238.5" y1="11.5" x2="241" y2="11.5"/><line x1="236" y1="17.5" x2="238.5" y2="17.5"/></g>
<g shape-rendering="crispEdges"><rect x="252" y="3" width="26" height="22" fill="url(#chk)"/><rect x="252" y="3" width="26" height="1" fill="#9a9a9a"/><rect x="252" y="3" width="1" height="22" fill="#9a9a9a"/><rect x="252" y="24" width="26" height="1" fill="#fff"/><rect x="277" y="3" width="1" height="22" fill="#fff"/></g>
<g stroke="#555" stroke-width="1.1" fill="#555"><line x1="260.5" y1="10" x2="260.5" y2="22.3"/><line x1="258" y1="20.4" x2="271" y2="20.4"/><polygon points="260.5,8.8 258.6,11.3 262.4,11.3" stroke="none"/><polygon points="272.2,20.4 269.7,18.5 269.7,22.3" stroke="none"/></g>
<line x1="266.6" y1="7.2" x2="266.6" y2="18.8" stroke="#169416" stroke-width="1.2"/><rect x="264.6" y="9.6" width="4.1" height="6.8" fill="url(#grn)" stroke="#169416" stroke-width="0.9"/>
<g stroke="#555" stroke-width="1.1" fill="#555"><line x1="288.5" y1="10" x2="288.5" y2="22.3"/><line x1="286" y1="20.4" x2="299" y2="20.4"/><polygon points="288.5,8.8 286.6,11.3 290.4,11.3" stroke="none"/><polygon points="300.2,20.4 297.7,18.5 297.7,22.3" stroke="none"/></g>
<path d="M287,17.8 C290,16.5 291.3,12.2 293.3,12.2 C295.3,12.2 296.3,15.6 298.8,16.3" fill="none" stroke="#2a9a2a" stroke-width="1.1"/>
<rect x="309" y="4" width="1" height="21" fill="#a0a0a0" shape-rendering="crispEdges"/>
<line x1="327.9" y1="17.2" x2="332.9" y2="21.9" stroke="#a87c08" stroke-width="3.3" stroke-linecap="butt"/><line x1="327.9" y1="17.2" x2="332.7" y2="21.7" stroke="#f2dc3c" stroke-width="1.8"/><circle cx="324" cy="13" r="5.45" fill="url(#lens)" stroke="#2b74c4" stroke-width="1.2"/>
<line x1="320.4" y1="13" x2="327.6" y2="13" stroke="#3f88b2" stroke-width="1.8"/>
<line x1="324" y1="9.5" x2="324" y2="16.5" stroke="#3f88b2" stroke-width="1.8"/>
<line x1="355.9" y1="17.2" x2="360.9" y2="21.9" stroke="#a87c08" stroke-width="3.3" stroke-linecap="butt"/><line x1="355.9" y1="17.2" x2="360.7" y2="21.7" stroke="#f2dc3c" stroke-width="1.8"/><circle cx="352" cy="13" r="5.45" fill="url(#lens)" stroke="#2b74c4" stroke-width="1.2"/>
<line x1="349.2" y1="13" x2="354.8" y2="13" stroke="#3f88b2" stroke-width="1.8"/>
<rect x="374" y="7.2" width="8" height="7.8" fill="#3fa020"/><rect x="374" y="7.2" width="8" height="2" fill="#2f8a14"/><rect x="374.9" y="8.0" width="0.9" height="0.8" fill="#fff" opacity="0.9"/><path d="M375.3,10.4 h5.6 v3.8 h-1.1 v-1.3 h-3.4 v1.3 h-1.1 z" fill="#fff"/><rect x="376.3" y="11.2" width="3.6" height="0.7" fill="#3fa020" opacity="0.55"/>
<rect x="382.2" y="7.2" width="8" height="7.8" fill="#2258d8"/><rect x="382.2" y="7.2" width="8" height="2" fill="#1038a8"/><rect x="383.09999999999997" y="8.0" width="0.9" height="0.8" fill="#fff" opacity="0.9"/><path d="M383.5,10.4 h5.6 v3.8 h-1.1 v-1.3 h-3.4 v1.3 h-1.1 z" fill="#fff"/><rect x="384.5" y="11.2" width="3.6" height="0.7" fill="#2258d8" opacity="0.55"/>
<rect x="374" y="15.2" width="8" height="7.8" fill="#2258d8"/><rect x="374" y="15.2" width="8" height="2" fill="#1038a8"/><rect x="374.9" y="16.0" width="0.9" height="0.8" fill="#fff" opacity="0.9"/><path d="M375.3,18.4 h5.6 v3.8 h-1.1 v-1.3 h-3.4 v1.3 h-1.1 z" fill="#fff"/><rect x="376.3" y="19.2" width="3.6" height="0.7" fill="#2258d8" opacity="0.55"/>
<rect x="382.2" y="15.2" width="8" height="7.8" fill="#3fa020"/><rect x="382.2" y="15.2" width="8" height="2" fill="#2f8a14"/><rect x="383.09999999999997" y="16.0" width="0.9" height="0.8" fill="#fff" opacity="0.9"/><path d="M383.5,18.4 h5.6 v3.8 h-1.1 v-1.3 h-3.4 v1.3 h-1.1 z" fill="#fff"/><rect x="384.5" y="19.2" width="3.6" height="0.7" fill="#3fa020" opacity="0.55"/>
<rect x="399" y="4" width="1" height="21" fill="#a0a0a0" shape-rendering="crispEdges"/>
<g shape-rendering="crispEdges"><rect x="404" y="3" width="26" height="22" fill="url(#chk)"/><rect x="404" y="3" width="26" height="1" fill="#9a9a9a"/><rect x="404" y="3" width="1" height="22" fill="#9a9a9a"/><rect x="404" y="24" width="26" height="1" fill="#fff"/><rect x="429" y="3" width="1" height="22" fill="#fff"/></g>
<g stroke="#555" stroke-width="1.1" fill="#555"><line x1="412.5" y1="10" x2="412.5" y2="22.3"/><line x1="410" y1="20.4" x2="423" y2="20.4"/><polygon points="412.5,8.8 410.6,11.3 414.4,11.3" stroke="none"/><polygon points="424.2,20.4 421.7,18.5 421.7,22.3" stroke="none"/></g>
<polygon points="417.4,11.4 417.4,17.8 421,14.6" fill="#a8eca8" stroke="#18a018" stroke-width="0.9"/>
<g shape-rendering="crispEdges"><rect x="432" y="3" width="26" height="22" fill="url(#chk)"/><rect x="432" y="3" width="26" height="1" fill="#9a9a9a"/><rect x="432" y="3" width="1" height="22" fill="#9a9a9a"/><rect x="432" y="24" width="26" height="1" fill="#fff"/><rect x="457" y="3" width="1" height="22" fill="#fff"/></g>
<g stroke="#555" stroke-width="1.1" fill="#555"><line x1="440.5" y1="10" x2="440.5" y2="22.3"/><line x1="438" y1="20.4" x2="451" y2="20.4"/><polygon points="440.5,8.8 438.6,11.3 442.4,11.3" stroke="none"/><polygon points="452.2,20.4 449.7,18.5 449.7,22.3" stroke="none"/></g>
<line x1="446.4" y1="9" x2="446.4" y2="18.8" stroke="#1c6cb0" stroke-width="1.1"/><line x1="447.4" y1="14.5" x2="452" y2="14.5" stroke="#e0500c" stroke-width="1.1"/><polygon points="447.1,14.5 450,12.3 450,16.7" fill="#e0500c"/>
<rect x="461" y="4" width="1" height="21" fill="#a0a0a0" shape-rendering="crispEdges"/>
<path d="M472,7.6 h7.6 l3,3 v9.8 h-10.6 z" fill="#f7f7f7" stroke="#9a9a9a" stroke-width="0.8"/><path d="M479.6,7.6 v3 h3" fill="#e4e4e4" stroke="#9a9a9a" stroke-width="0.6"/><path d="M475.4,10.6 q-1.2,0 -1.2,1.2 v5 q0,1.2 1.2,1.2 M473.6,14 h2" fill="none" stroke="#7a6a4a" stroke-width="0.8"/><path d="M479.4,13.2 h3.6 v4 h4 v3.6 h-4 v4 h-3.6 v-4 h-4 v-3.6 h4 z" fill="url(#gplus)" stroke="#0e900e" stroke-width="0.8"/>
<polygon points="493,14 498.4,14 495.7,17" fill="#000"/>
<circle cx="517" cy="15" r="6.9" fill="#f2f7ff" stroke="url(#clk)" stroke-width="2.6"/><circle cx="517" cy="15" r="8.15" fill="none" stroke="#0a48a0" stroke-width="0.4"/><path d="M516.7,11.9 v3.5 h2.7" fill="none" stroke="#222" stroke-width="1"/><g fill="#9aa6bc"><circle cx="517" cy="10.6" r="0.35"/><circle cx="521.4" cy="15" r="0.35"/><circle cx="512.6" cy="15" r="0.35"/><circle cx="517" cy="19.4" r="0.45" fill="#4a90e0"/></g>
<polygon points="532,14 537.4,14 534.7,17" fill="#000"/>
<rect x="548.4" y="8.2" width="15.4" height="13.4" fill="#fff" stroke="#2f68bc" stroke-width="0.9"/><rect x="548.4" y="8.2" width="15.4" height="2.5" fill="#4a8ad8"/><rect x="549.4" y="8.9" width="5" height="0.8" fill="#cfe2f8"/><line x1="548.4" y1="16" x2="563.8" y2="16" stroke="#4a8ad8" stroke-width="0.9"/><polyline points="550.4,14.4 552.2,14.4 553.8,12.6 555.8,13.4 557.4,12.2 559.4,13.2 561.8,12.2" fill="none" stroke="#a02808" stroke-width="0.9"/><polyline points="551.2,19.4 553.2,18.4 555,19.4 557,18.8 559,17.2 561.8,19.6" fill="none" stroke="#1a8a1a" stroke-width="0.9"/>
<polygon points="571,14 576.4,14 573.7,17" fill="#000"/>
<rect x="582" y="2" width="1" height="25" fill="#a0a0a0" shape-rendering="crispEdges"/>
<rect x="583" y="2" width="1" height="25" fill="#fff" shape-rendering="crispEdges"/>
<rect x="586" y="5" width="3" height="1" fill="#a6a6a6" shape-rendering="crispEdges"/>
<rect x="586" y="7" width="3" height="1" fill="#a6a6a6" shape-rendering="crispEdges"/>
<rect x="586" y="9" width="3" height="1" fill="#a6a6a6" shape-rendering="crispEdges"/>
<rect x="586" y="11" width="3" height="1" fill="#a6a6a6" shape-rendering="crispEdges"/>
<rect x="586" y="13" width="3" height="1" fill="#a6a6a6" shape-rendering="crispEdges"/>
<rect x="586" y="15" width="3" height="1" fill="#a6a6a6" shape-rendering="crispEdges"/>
<rect x="586" y="17" width="3" height="1" fill="#a6a6a6" shape-rendering="crispEdges"/>
<rect x="586" y="19" width="3" height="1" fill="#a6a6a6" shape-rendering="crispEdges"/>
<rect x="586" y="21" width="3" height="1" fill="#a6a6a6" shape-rendering="crispEdges"/>
<rect x="586" y="23" width="3" height="1" fill="#a6a6a6" shape-rendering="crispEdges"/>
<g shape-rendering="crispEdges"><rect x="592" y="3" width="26" height="22" fill="url(#chk)"/><rect x="592" y="3" width="26" height="1" fill="#9a9a9a"/><rect x="592" y="3" width="1" height="22" fill="#9a9a9a"/><rect x="592" y="24" width="26" height="1" fill="#fff"/><rect x="617" y="3" width="1" height="22" fill="#fff"/></g>
<polygon points="600.2,7.8 600.2,18.9 602.7,16.7 604.7,21.6 606.8,20.8 604.8,16 608.1,15.4" fill="#4d4d4d"/>
<g stroke="#4d4d4d" stroke-width="1.2"><line x1="625.2" y1="15.3" x2="631.4" y2="15.3"/><line x1="633.6" y1="15.3" x2="639.9" y2="15.3"/><line x1="632.5" y1="8.1" x2="632.5" y2="14.2"/><line x1="632.5" y1="16.4" x2="632.5" y2="22.8"/></g><rect x="632.1" y="14.9" width="0.8" height="0.8" fill="#4d4d4d"/>
<rect x="649" y="4" width="1" height="21" fill="#a0a0a0" shape-rendering="crispEdges"/>
<g stroke="#4d4d4d" stroke-width="1.2"><line x1="666.5" y1="9" x2="666.5" y2="21.9"/><line x1="689" y1="15.3" x2="701" y2="15.3"/><line x1="716.8" y1="21.9" x2="729" y2="9.7"/></g>
<g stroke="#4d4d4d" stroke-width="1" fill="none"><line x1="742.8" y1="16.9" x2="751" y2="9"/><line x1="744.6" y1="21.6" x2="757" y2="9.6"/><line x1="748" y1="21.8" x2="757" y2="13.2"/><line x1="746.6" y1="14" x2="745.6" y2="20.4"/><line x1="749.6" y1="11.4" x2="748.4" y2="18.6"/><line x1="752.2" y1="10" x2="751" y2="17"/><line x1="755" y1="7" x2="753.8" y2="14.4"/></g>
<text x="753.6" y="23.8" font-size="7" font-weight="bold" fill="#333">E</text>
<line x1="772" y1="8.5" x2="785.4" y2="8.5" stroke="#4d4d4d" stroke-width="1" stroke-dasharray="1 1" shape-rendering="crispEdges"/>
<line x1="772" y1="11.5" x2="785.4" y2="11.5" stroke="#4d4d4d" stroke-width="1" stroke-dasharray="1 1" shape-rendering="crispEdges"/>
<line x1="772" y1="15.5" x2="785.4" y2="15.5" stroke="#4d4d4d" stroke-width="1" stroke-dasharray="1 1" shape-rendering="crispEdges"/>
<line x1="772" y1="19.5" x2="781" y2="19.5" stroke="#4d4d4d" stroke-width="1" stroke-dasharray="1 1" shape-rendering="crispEdges"/>
<text x="781.8" y="23.8" font-size="7" font-weight="bold" fill="#333">F</text>
<text x="802.1" y="20" font-size="12.6" fill="#5a5a5a" stroke="#5a5a5a" stroke-width="0.3">A</text>
<rect x="829.5" y="9.5" width="11" height="12" fill="none" stroke="#4d4d4d" stroke-width="1" stroke-dasharray="1 1" shape-rendering="crispEdges"/><rect x="828" y="8.2" width="2.2" height="1.3" fill="#4d4d4d"/><text x="830.6" y="20" font-size="11.4" font-weight="bold" fill="#5a5a5a">T</text>
<polygon points="859.4,9 856.2,12.4 859.4,13.6 862.8,12.4" fill="#4d4d4d"/><polyline points="858.4,16 860.6,18.4 865,13.6" fill="none" stroke="#4d4d4d" stroke-width="1.3"/><polygon points="863.4,18.4 866.6,17.6 869.8,18.4 866.6,22" fill="#4d4d4d"/>
<polygon points="877,14 882.4,14 879.7,17" fill="#000"/>
<rect x="888" y="2" width="1" height="25" fill="#a0a0a0" shape-rendering="crispEdges"/>
<rect x="889" y="2" width="1" height="25" fill="#fff" shape-rendering="crispEdges"/>
<rect x="892" y="5" width="3" height="1" fill="#a6a6a6" shape-rendering="crispEdges"/>
<rect x="892" y="7" width="3" height="1" fill="#a6a6a6" shape-rendering="crispEdges"/>
<rect x="892" y="9" width="3" height="1" fill="#a6a6a6" shape-rendering="crispEdges"/>
<rect x="892" y="11" width="3" height="1" fill="#a6a6a6" shape-rendering="crispEdges"/>
<rect x="892" y="13" width="3" height="1" fill="#a6a6a6" shape-rendering="crispEdges"/>
<rect x="892" y="15" width="3" height="1" fill="#a6a6a6" shape-rendering="crispEdges"/>
<rect x="892" y="17" width="3" height="1" fill="#a6a6a6" shape-rendering="crispEdges"/>
<rect x="892" y="19" width="3" height="1" fill="#a6a6a6" shape-rendering="crispEdges"/>
<rect x="892" y="21" width="3" height="1" fill="#a6a6a6" shape-rendering="crispEdges"/>
<rect x="892" y="23" width="3" height="1" fill="#a6a6a6" shape-rendering="crispEdges"/>
<text x="903.4" y="18.8" font-size="9.4" fill="#3c3c3c" textLength="13" lengthAdjust="spacingAndGlyphs" transform="translate(0,-1.32) scale(1,1.07)">M1</text>
<text x="931.4" y="18.8" font-size="9.4" fill="#3c3c3c" textLength="13" lengthAdjust="spacingAndGlyphs" transform="translate(0,-1.32) scale(1,1.07)">M5</text>
<text x="957.4" y="18.8" font-size="9.4" fill="#3c3c3c" textLength="18" lengthAdjust="spacingAndGlyphs" transform="translate(0,-1.32) scale(1,1.07)">M15</text>
<text x="985.2" y="18.8" font-size="9.4" fill="#3c3c3c" textLength="18" lengthAdjust="spacingAndGlyphs" transform="translate(0,-1.32) scale(1,1.07)">M30</text>
<text x="1016.2" y="18.8" font-size="9.4" fill="#3c3c3c" textLength="12" lengthAdjust="spacingAndGlyphs" transform="translate(0,-1.32) scale(1,1.07)">H1</text>
<g shape-rendering="crispEdges"><rect x="1038" y="3" width="26" height="22" fill="url(#chk)"/><rect x="1038" y="3" width="26" height="1" fill="#9a9a9a"/><rect x="1038" y="3" width="1" height="22" fill="#9a9a9a"/><rect x="1038" y="24" width="26" height="1" fill="#fff"/><rect x="1063" y="3" width="1" height="22" fill="#fff"/></g>
<text x="1043.4" y="18.8" font-size="9.4" fill="#3c3c3c" textLength="12.4" lengthAdjust="spacingAndGlyphs" transform="translate(0,-1.32) scale(1,1.07)">H4</text>
<text x="1072" y="18.8" font-size="9.4" fill="#3c3c3c" textLength="12.4" lengthAdjust="spacingAndGlyphs" transform="translate(0,-1.32) scale(1,1.07)">D1</text>
<text x="1099.8" y="18.8" font-size="9.4" fill="#3c3c3c" textLength="14.6" lengthAdjust="spacingAndGlyphs" transform="translate(0,-1.32) scale(1,1.07)">W1</text>
<text x="1126.4" y="18.8" font-size="9.4" fill="#3c3c3c" textLength="15" lengthAdjust="spacingAndGlyphs" transform="translate(0,-1.32) scale(1,1.07)">MN</text>
<rect x="1149" y="2" width="1" height="25" fill="#a0a0a0" shape-rendering="crispEdges"/>
<rect x="1150" y="2" width="1" height="25" fill="#fff" shape-rendering="crispEdges"/>
<line x1="1616.4" y1="15.8" x2="1611.8" y2="20.2" stroke="#2a5fd0" stroke-width="2.2" stroke-linecap="round"/><circle cx="1619.4" cy="12.5" r="4" fill="#f4f8ff" stroke="#2a5fd0" stroke-width="1.3"/>
<path d="M1636.4,17.6 a5.6,4.6 0 1 1 4.4,4.4 l-1.6,2 l-0.2,-2.4 a5.4,4.6 0 0 1 -2.6,-4 z" fill="#e4e6ea" stroke="#b4b8c0" stroke-width="0.7"/><circle cx="1650.5" cy="12.5" r="8.3" fill="url(#badge)"/><text x="1650.4" y="17.6" font-size="14" fill="#fff" text-anchor="middle">1</text>
</g>
</svg>
</body></html>
